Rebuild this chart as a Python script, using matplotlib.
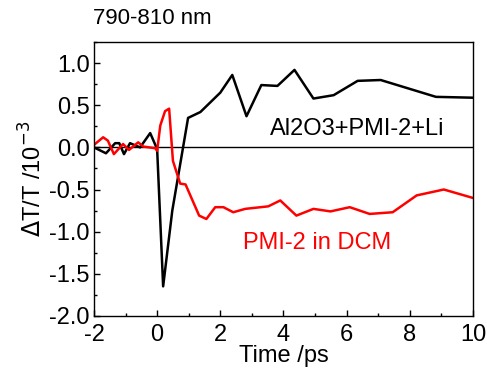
import matplotlib
matplotlib.use("Agg")
import matplotlib.pyplot as plt
from matplotlib.ticker import MultipleLocator

plt.rcParams["font.family"] = ["Liberation Sans", "DejaVu Sans"]

# Al2O3+PMI-2+Li (black)
t_li = [-2.0, -1.62, -1.33, -1.2, -1.05, -0.86, -0.54, -0.22, 0.0, 0.19, 0.48, 0.98,
        1.37, 2.0, 2.38, 2.83, 3.3, 3.81, 4.35, 4.95, 5.59, 6.35, 7.08, 8.83, 10.0]
v_li = [0.0, -0.07, 0.05, 0.05, -0.08, 0.05, 0.0, 0.17, -0.02, -1.65, -0.75, 0.35,
        0.42, 0.65, 0.86, 0.37, 0.74, 0.73, 0.92, 0.58, 0.62, 0.79, 0.8, 0.6, 0.59]

# PMI-2 in DCM (red)
t_dcm = [-2.0, -1.71, -1.56, -1.37, -1.08, -0.89, -0.6, -0.44, -0.06, 0.0, 0.1, 0.25,
         0.38, 0.5, 0.73, 0.9, 1.33, 1.56, 1.84, 2.1, 2.41, 2.79, 3.52, 3.9, 4.41,
         4.95, 5.49, 6.1, 6.73, 7.46, 8.22, 9.08, 10.0]
v_dcm = [0.03, 0.12, 0.08, -0.08, 0.04, -0.03, 0.06, 0.01, -0.01, -0.04, 0.26, 0.43,
         0.46, -0.16, -0.43, -0.44, -0.81, -0.85, -0.71, -0.71, -0.77, -0.73, -0.7,
         -0.63, -0.81, -0.73, -0.76, -0.71, -0.79, -0.77, -0.57, -0.5, -0.6]

FS = 17

fig = plt.figure(figsize=(4.87, 3.76), dpi=100)
ax = fig.add_axes([0.193, 0.160, 0.778, 0.728])

ax.axhline(0, color="black", lw=1.0)
ax.plot(t_li, v_li, color="black", lw=1.8)
ax.plot(t_dcm, v_dcm, color="red", lw=1.8)

ax.set_xlim(-2, 10)
ax.set_ylim(-2.0, 1.25)
ax.xaxis.set_minor_locator(MultipleLocator(1))
ax.yaxis.set_minor_locator(MultipleLocator(0.25))
ax.set_yticks([-2.0, -1.5, -1.0, -0.5, 0.0, 0.5, 1.0])
ax.set_yticklabels(["-2.0", "-1.5", "-1.0", "-0.5", "0.0", "0.5", "1.0"])
ax.set_xticks([-2, 0, 2, 4, 6, 8, 10])
ax.set_xticklabels(["-2", "0", "2", "4", "6", "8", "10"])
ax.tick_params(which="both", direction="in", top=False, right=False, labelsize=FS)
ax.tick_params(which="major", length=4, width=1)
ax.tick_params(which="minor", length=2.5, width=1)
ax.tick_params(axis="y", pad=3)
ax.tick_params(axis="x", pad=6)
for s in ax.spines.values():
    s.set_linewidth(1.0)

ax.set_xlabel("Time /ps", fontsize=FS, labelpad=-1)
ax.set_ylabel(r"$\Delta$T/T /10$^{-3}$", fontsize=FS, labelpad=2)

ax.text(6.33, 0.22, "Al2O3+PMI-2+Li", fontsize=FS, ha="center", va="center", color="black")
ax.text(5.08, -1.14, "PMI-2 in DCM", fontsize=FS, ha="center", va="center", color="red")
fig.text(0.19, 0.95, "790-810 nm", fontsize=16, ha="left", va="center")

fig.savefig("out.png", dpi=100)
